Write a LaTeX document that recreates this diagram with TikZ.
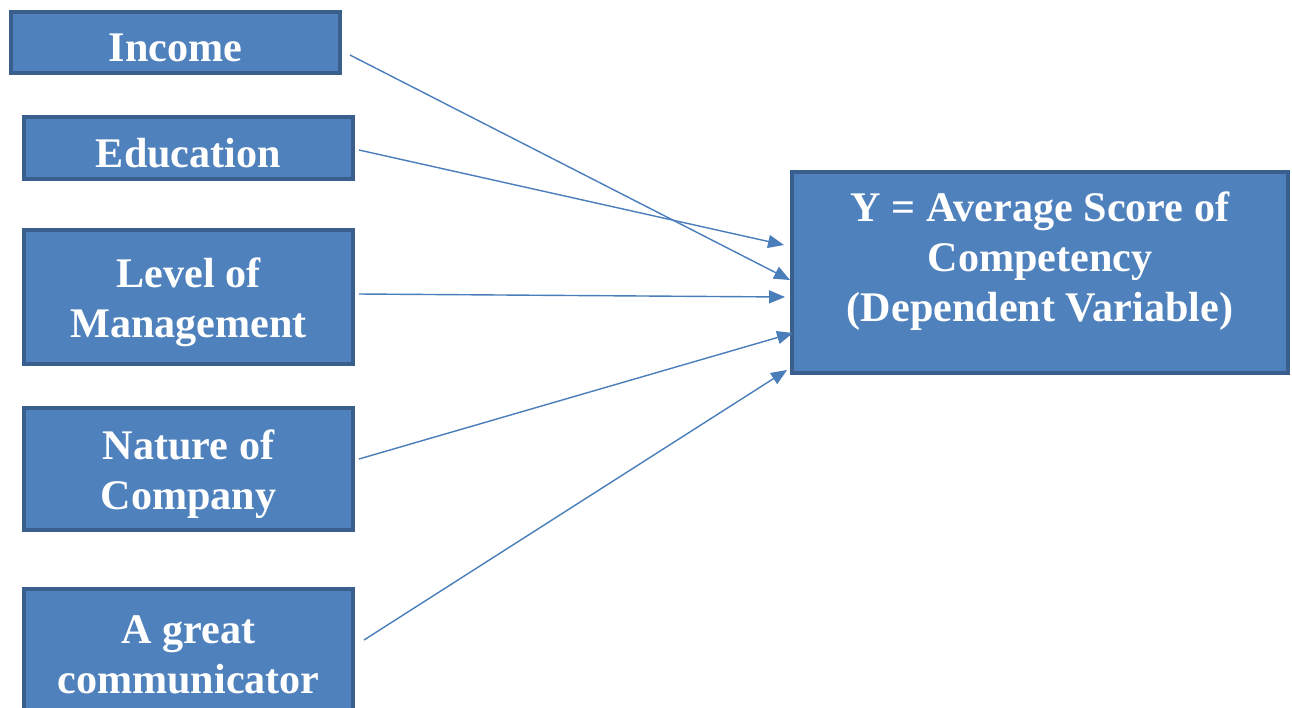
\documentclass[tikz,border=0pt]{standalone}
\usepackage{fontspec}
\setmainfont{Liberation Serif}
\usepackage{tikz}
\usetikzlibrary{arrows.meta}
\definecolor{boxfill}{HTML}{4F81BD}
\definecolor{boxline}{HTML}{3A5F8C}
\definecolor{arrline}{HTML}{4A7EBB}

\begin{document}
\begin{tikzpicture}[
    x=0.02cm,
    y=-0.02cm,
    box/.style={draw=boxline,line width=0.08cm,fill=boxfill,
      minimum width=6.58cm,inner sep=0pt},
    boxtext/.style={text=white,font=\fontsize{24}{28.5}\selectfont\bfseries,
      align=center,inner sep=0pt},
    link/.style={arrline,line width=0.8pt,-{Triangle[length=0.32cm,width=0.26cm]}}
    ]
    \clip (0,0) rectangle (1292,707);
    \fill[white] (0,0) rectangle (1292,707);

    \node[box,minimum height=1.22cm] (v1) at (175.5, 42.5) {};
    \node[boxtext] (t1) at (175.5, 48) {Income};
    \node[box,minimum height=1.24cm] (v2) at (188.5, 148) {};
    \node[boxtext] (t2) at (188.5, 153) {Education};
    \node[box,minimum height=2.68cm] (v3) at (188.5, 297) {};
    \node[boxtext] (t3) at (188.5, 302) {Level of\\Management};
    \node[box,minimum height=2.44cm] (v4) at (188.5, 469) {};
    \node[boxtext] (t4) at (188.5, 474) {Nature of\\Company};
    \node[box,minimum height=2.48cm] (v5) at (188.5, 651) {};
    \node[boxtext] (t5) at (188.5, 655) {A great\\communicator};

    \node[box,minimum width=9.92cm,minimum height=4.02cm] (y) at (1040, 272.5) {};
    \node[boxtext] (ytext) at (1040, 261)
      {Y = Average Score of\\Competency\\(Dependent Variable)};

    % arrows into y
    \draw[link] ([shift={(0.16cm,-0.25cm)}]v1.east) -- ([shift={(0cm,-0.15cm)}]y.west);
    \draw[link] ([shift={(0.08cm,-0.04cm)}]v2.east) -- ([shift={(-0.12cm,0.55cm)}]y.west);
    \draw[link] ([shift={(0.08cm,0.06cm)}]v3.east) -- ([shift={(-0.1cm,-0.49cm)}]y.west);
    \draw[link] ([shift={(0.08cm,0.2cm)}]v4.east) -- ([shift={(0.06cm,-1.21cm)}]y.west);
    \draw[link] ([shift={(0.18cm,0.22cm)}]v5.east) -- ([shift={(-0.06cm,-1.95cm)}]y.west);
\end{tikzpicture}
\end{document}
